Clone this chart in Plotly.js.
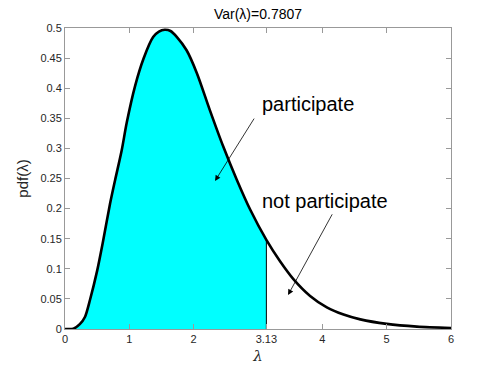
<!DOCTYPE html>
<html>
<head>
<meta charset="utf-8">
<script src="https://cdn.plot.ly/plotly-3.0.1.min.js"></script>
<style>
  html, body { margin: 0; padding: 0; background: #fff; }
  #chart { width: 498px; height: 374px; }
</style>
</head>
<body>
<div id="chart"></div>
<script>
// values
const lam = [0, 0.13, 0.23, 0.31, 0.39, 0.5, 0.59, 0.7, 0.78, 0.88, 0.96, 1.09, 1.22, 1.37, 1.46, 1.55,
             1.64, 1.74, 1.89, 2.05, 2.25, 2.46, 2.67, 2.88, 3.13, 3.34, 3.55, 3.81, 4.07, 4.33, 4.59,
             5.0, 5.47, 6.0];
const pdf = [0, 0.0005, 0.008, 0.02, 0.049, 0.097, 0.145, 0.208, 0.248, 0.296, 0.343, 0.404, 0.449, 0.485, 0.494, 0.497,
             0.495, 0.485, 0.463, 0.425, 0.364, 0.303, 0.248, 0.198, 0.148, 0.113, 0.083, 0.055, 0.036, 0.024, 0.016,
             0.0085, 0.004, 0.0017];
const cutoff = 3.13;

const xTicks = [0, 1, 2, 3.13, 4, 5, 6];
const xTickText = ["0", "1", "2", "3.13", "4", "5", "6"];
const yTicks = [0, 0.05, 0.1, 0.15, 0.2, 0.25, 0.3, 0.35, 0.4, 0.45, 0.5];
const yTickText = ["0", "0.05", "0.1", "0.15", "0.2", "0.25", "0.3", "0.35", "0.4", "0.45", "0.5"];

// filled part up to cutoff
const fillX = [], fillY = [];
lam.forEach((x, i) => { if (x <= cutoff) { fillX.push(x); fillY.push(pdf[i]); } });
const cutY = fillY[fillY.length - 1];

const font = "Liberation Sans, Arial, Helvetica, sans-serif";

const traces = [
  {
    type: "scatter", mode: "lines",
    x: fillX, y: fillY,
    fill: "tozeroy", fillcolor: "#00FFFF",
    line: { color: "#000", width: 0.5, shape: "spline", smoothing: 0.8 },
    hoverinfo: "skip"
  },
  {
    // edge of the filled area at the cutoff
    type: "scatter", mode: "lines",
    x: [cutoff, cutoff], y: [0, cutY],
    line: { color: "#000", width: 1 },
    hoverinfo: "skip"
  },
  {
    type: "scatter", mode: "lines",
    x: lam, y: pdf,
    line: { color: "#000", width: 2.6, shape: "spline", smoothing: 0.8 }
  }
];

const axisCommon = {
  showgrid: false, zeroline: false,
  showline: true, linecolor: "#999", linewidth: 1,
  mirror: "ticks", ticks: "inside", ticklen: 5, tickcolor: "#999",
  tickfont: { family: font, size: 11, color: "#262626" }
};

const layout = {
  width: 498, height: 374,
  margin: { l: 65, r: 47, t: 28, b: 45 },
  paper_bgcolor: "#fff", plot_bgcolor: "#fff",
  showlegend: false,
  title: {
    text: "Var(λ)=0.7807",
    font: { family: font, size: 14, color: "#000" },
    x: 0.5, xref: "paper", xanchor: "center",
    y: 0.963, yref: "container", yanchor: "middle"
  },
  xaxis: Object.assign({}, axisCommon, {
    range: [0, 6], tickvals: xTicks, ticktext: xTickText,
    title: { text: "<i>λ</i>", font: { family: "DejaVu Serif, serif", size: 15, color: "#262626" }, standoff: 6 }
  }),
  yaxis: Object.assign({}, axisCommon, {
    range: [0, 0.5], tickvals: yTicks, ticktext: yTickText,
    title: { text: "pdf(λ)", font: { family: font, size: 15, color: "#262626" }, standoff: 8 }
  }),
  annotations: [
    {
      x: 2.332, y: 0.246, ax: 2.954, ay: 0.352,
      xref: "x", yref: "y", axref: "x", ayref: "y",
      showarrow: true, arrowhead: 2, arrowsize: 1.4, arrowwidth: 0.8, arrowcolor: "#000", text: ""
    },
    {
      x: 3.467, y: 0.0565, ax: 4.166, ay: 0.193,
      xref: "x", yref: "y", axref: "x", ayref: "y",
      showarrow: true, arrowhead: 2, arrowsize: 1.4, arrowwidth: 0.8, arrowcolor: "#000", text: ""
    },
    {
      x: 3.03, y: 0.374, xref: "x", yref: "y", xanchor: "left", yanchor: "middle",
      showarrow: false, text: "participate",
      font: { family: font, size: 20, color: "#000" }
    },
    {
      x: 3.03, y: 0.2126, xref: "x", yref: "y", xanchor: "left", yanchor: "middle",
      showarrow: false, text: "not participate",
      font: { family: font, size: 20, color: "#000" }
    }
  ]
};

Plotly.newPlot("chart", traces, layout, { displayModeBar: false, staticPlot: true });
</script>
</body>
</html>
